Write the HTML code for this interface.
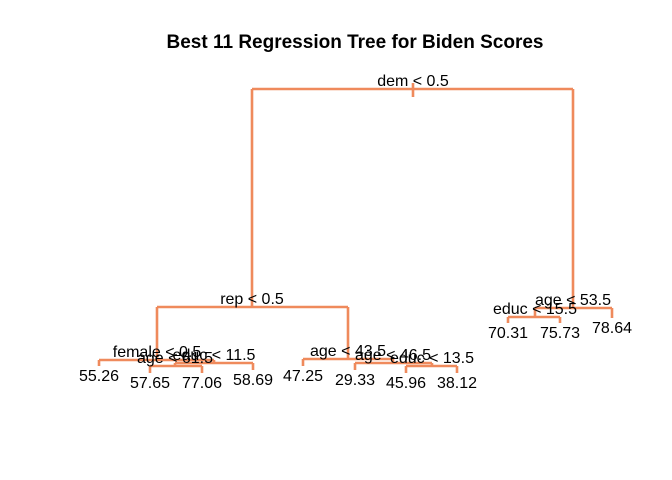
<!DOCTYPE html>
<html><head><meta charset="utf-8"><style>
html,body{margin:0;padding:0;background:#fff;}
svg{display:block;font-family:"Liberation Sans",Arial,sans-serif;}
</style></head><body>
<svg id="tree" width="672" height="480">
<text x="355" y="48" text-anchor="middle" font-weight="bold" font-size="19">Best 11 Regression Tree for Biden Scores</text>
</svg>
<script>
// split nodes: label, x, y (horizontal bar), left child x, right child x
const splitLabels=["dem < 0.5","rep < 0.5","age < 53.5","female < 0.5","educ < 11.5","age < 61.5","age < 43.5","age < 46.5","educ < 13.5","educ < 15.5"];
const leafValues=["55.26","57.65","77.06","58.69","47.25","29.33","45.96","38.12","70.31","75.73","78.64"];
const svg=document.getElementById('tree');
const C="#ef8a5c";
function line(x1,y1,x2,y2,n){const l=document.createElementNS("http://www.w3.org/2000/svg","line");
l.setAttribute("x1",x1);l.setAttribute("y1",y1);l.setAttribute("x2",x2);l.setAttribute("y2",y2);
l.setAttribute("stroke",C);l.setAttribute("stroke-width","2.6");


svg.appendChild(l);}
function text(x,y,s,n){const t=document.createElementNS("http://www.w3.org/2000/svg","text");
t.setAttribute("x",x);t.setAttribute("y",y);t.setAttribute("text-anchor","middle");t.setAttribute("font-size","16");t.textContent=s;


svg.appendChild(t);}
// layout: [x, y, leftX, rightX, leftChildY, rightChildY]
const nodes=[[413,89,252,573,307,308],[252,307,157,348,360,359],[573,308,535,612,317,318],
[157,360,99,214,366,363],[214,363,175,253,366,370],[175,366,150,202,373,373],
[348,359,303,393,366,363],[393,363,355,432,370,366],[432,366,406,457,373,373],[535,317,508,560,323,323]];
const leafPos=[[99,366],[150,373],[202,373],[253,370],[303,366],[355,370],[406,373],[457,373],[508,323],[560,323],[612,318]];
nodes.forEach((n,i)=>{
  line(n[2],n[1],n[3],n[1],"split-bar");
  line(n[2],n[1],n[2],n[4],"branch-left");
  line(n[3],n[1],n[3],n[5],"branch-right");
});
line(413,83,413,97,"root-stem");
nodes.forEach((n,i)=>text(n[0],n[1]-3,splitLabels[i],"split-label"));
leafPos.forEach((p,i)=>text(p[0],p[1]+15,leafValues[i],"leaf-value"));
</script>
</body></html>
